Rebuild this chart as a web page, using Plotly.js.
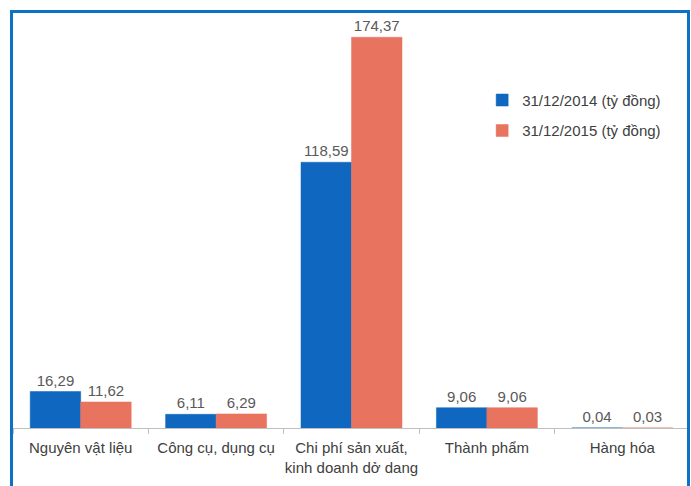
<!DOCTYPE html>
<html>
<head>
<meta charset="utf-8">
<script src="https://cdn.plot.ly/plotly-3.0.1.min.js"></script>
<style>
  html, body { margin: 0; padding: 0; background: #fff; overflow: hidden; }
  #chart { position: absolute; left: 0; top: 0; width: 691px; height: 486px; }
  #frame { position: absolute; left: 10px; top: 10px; width: 674px; height: 490px;
           border: 3px solid #0B72C6; border-bottom: none; pointer-events: none; }
  #rightmask { position: absolute; left: 687px; top: 0; width: 4px; height: 486px; background: #fff; }
</style>
</head>
<body>
<div id="chart"></div>
<div id="rightmask"></div>
<div id="frame"></div>
<script>
const categories = [
  "Nguyên vật liệu",
  "Công cụ, dụng cụ",
  "Chi phí sản xuất,<br>kinh doanh dở dang",
  "Thành phẩm",
  "Hàng hóa"
];
const series2014Name = "31/12/2014 (tỷ đồng)";
const series2015Name = "31/12/2015 (tỷ đồng)";
const values2014 = [16.29, 6.11, 118.59, 9.06, 0.04];
const values2015 = [11.62, 6.29, 174.37, 9.06, 0.03];

const FONT = "'Liberation Sans', Arial, sans-serif";
const BLUE = "#0F67BF";
const RED = "#E8735F";

const traces = [
  {
    type: "bar", name: series2014Name, x: categories, y: values2014,
    marker: { color: BLUE, line: { color: BLUE, width: 0.5 } }, legendgroup: "a",
    texttemplate: "%{y:.2f}", textposition: "outside", cliponaxis: false,
    textfont: { family: FONT, size: 15, color: "#595959" }, hoverinfo: "skip"
  },
  {
    type: "bar", name: series2015Name, x: categories, y: values2015,
    marker: { color: RED, line: { color: RED, width: 0.5 } }, legendgroup: "b",
    texttemplate: "%{y:.2f}", textposition: "outside", cliponaxis: false,
    textfont: { family: FONT, size: 15, color: "#595959" }, hoverinfo: "skip"
  }
];

const layout = {
  width: 691, height: 486,
  margin: { l: 13, r: 1, t: 2, b: 58 },
  paper_bgcolor: "#ffffff", plot_bgcolor: "#ffffff",
  separators: ",.",
  barmode: "group", bargap: 0.254, bargroupgap: 0,
  font: { family: FONT, size: 14, color: "#404040" },
  xaxis: {
    type: "category",
    showline: true, linecolor: "#BFBFBF", linewidth: 1,
    ticks: "outside", tickson: "boundaries", ticklen: 5, tickcolor: "#BFBFBF",
    ticklabelstandoff: 6, tickangle: 0,
    tickfont: { family: FONT, size: 15, color: "#404040" },
    showgrid: false, zeroline: false, fixedrange: true
  },
  yaxis: {
    range: [0, 190.1], visible: false, showgrid: false, zeroline: false, fixedrange: true
  },
  showlegend: true,
  legend: {
    x: 0.693, xanchor: "left", y: 0.808, yanchor: "top",
    font: { family: FONT, size: 15, color: "#404040" },
    tracegroupgap: 8, traceorder: "grouped",
    bgcolor: "rgba(0,0,0,0)"
  }
};

Plotly.newPlot("chart", traces, layout, { displayModeBar: false, staticPlot: true });
</script>
</body>
</html>
